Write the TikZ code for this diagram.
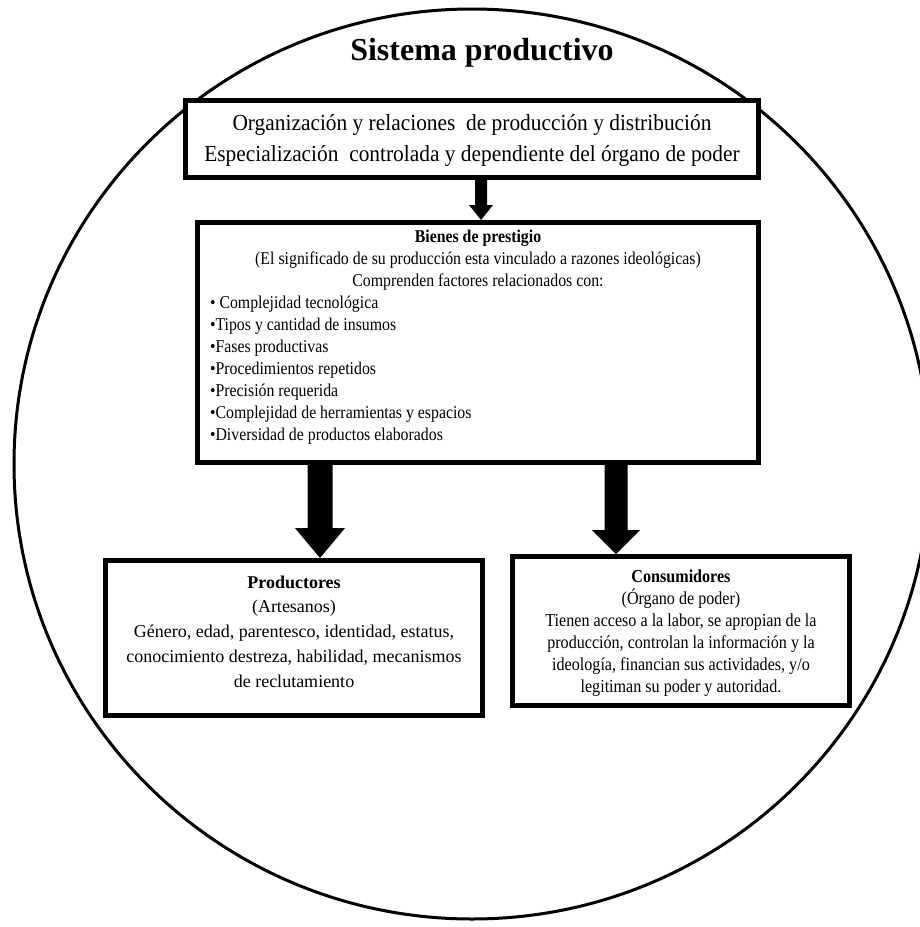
\documentclass[tikz,border=0pt]{standalone}
\usepackage{fontspec}
\setmainfont{Liberation Serif}
\newfontfamily\condfont[FakeStretch=0.88]{Liberation Serif}
\newfontfamily\topfont[FakeStretch=0.93]{Liberation Serif}
\usetikzlibrary{calc}
\tikzset{
  box/.style={draw=black, line width=5pt, fill=white, inner sep=0pt},
  blk/.style={fill=black},
  ring/.style={draw=black, line width=3pt},
}
% block arrow: start, end, shaft half width, head half width, head length
\newcommand{\blockarrow}[5]{%
  \fill[blk] ($(#1)+(-#3,0)$) -- ($(#2)+(-#3,-#5)$) -- ($(#2)+(-#4,-#5)$) -- (#2)
    -- ($(#2)+(#4,-#5)$) -- ($(#2)+(#3,-#5)$) -- ($(#1)+(#3,0)$) -- cycle;}
\begin{document}
\begin{tikzpicture}[x=1pt,y=-1pt]
\useasboundingbox (0,0) rectangle (920,927);
\fill[white] (0,0) rectangle (920,927);
\draw[ring] (472,464) ellipse [x radius=458pt, y radius=455pt];

\node (title) [anchor=base, font=\fontsize{32}{38}\selectfont\bfseries] at (482,60) {Sistema productivo};

\node (b1) [box, minimum width=573pt, minimum height=77pt] at (472,139)
  {\parbox[c][77pt][t]{573pt}{\topfont\fontsize{23}{31.5}\selectfont\lineskiplimit=-100pt\centering
   \rule{0pt}{29.5pt}Organización y relaciones~ de producción y distribución\\
   Especialización~ controlada y dependiente del órgano de poder}};

\node (b2) [box, minimum width=561pt, minimum height=240pt] at (478,342.5)
  {\parbox[c][240pt][t]{561pt}{\condfont\fontsize{18}{22}\selectfont\lineskiplimit=-100pt\centering
   \rule{0pt}{20pt}\textbf{Bienes de prestigio}\\
   (El significado de su producción esta vinculado a razones ideológicas)\\
   Comprenden factores relacionados con:\par
   \raggedright\leftskip=12.5pt
   • Complejidad tecnológica\\
   •Tipos y cantidad de insumos\\
   •Fases productivas\\
   •Procedimientos repetidos\\
   •Precisión requerida\\
   •Complejidad de herramientas y espacios\\
   •Diversidad de productos elaborados}};

\node (b3) [box, minimum width=377pt, minimum height=155pt] at (294,638)
  {\parbox[c][155pt][t]{377pt}{\fontsize{18}{24.75}\selectfont\lineskiplimit=-100pt\centering
   \rule{0pt}{27.5pt}\textbf{Productores}\\
   (Artesanos)\\
   Género, edad, parentesco, identidad, estatus,\\
   conocimiento destreza, habilidad, mecanismos\\
   de reclutamiento}};

\node (b4) [box, minimum width=337pt, minimum height=149pt] at (681,631)
  {\parbox[c][149pt][t]{337pt}{\condfont\fontsize{18.3}{22}\selectfont\lineskiplimit=-100pt\centering
   \rule{0pt}{25.5pt}\textbf{Consumidores}\\
   (Órgano de poder)\\
   Tienen acceso a la labor, se apropian de la\\
   producción, controlan la información y la\\
   ideología, financian sus actividades, y/o\\
   legitiman su poder y autoridad.}};

\coordinate (a1s) at ($(b1.south)+(9,0)$);
\coordinate (a1e) at (a1s |- b2.north);
\coordinate (a2s) at ($(b2.south)+(-158,0)$);
\coordinate (a2e) at (a2s |- b3.north);
\coordinate (a3s) at ($(b2.south)+(138,0)$);
\coordinate (a3e) at (a3s |- b4.north);
\blockarrow{a1s}{a1e}{6}{12}{15}
\blockarrow{a2s}{a2e}{12.5}{25}{30}
\blockarrow{a3s}{a3e}{11.5}{24}{24}
\end{tikzpicture}
\end{document}
